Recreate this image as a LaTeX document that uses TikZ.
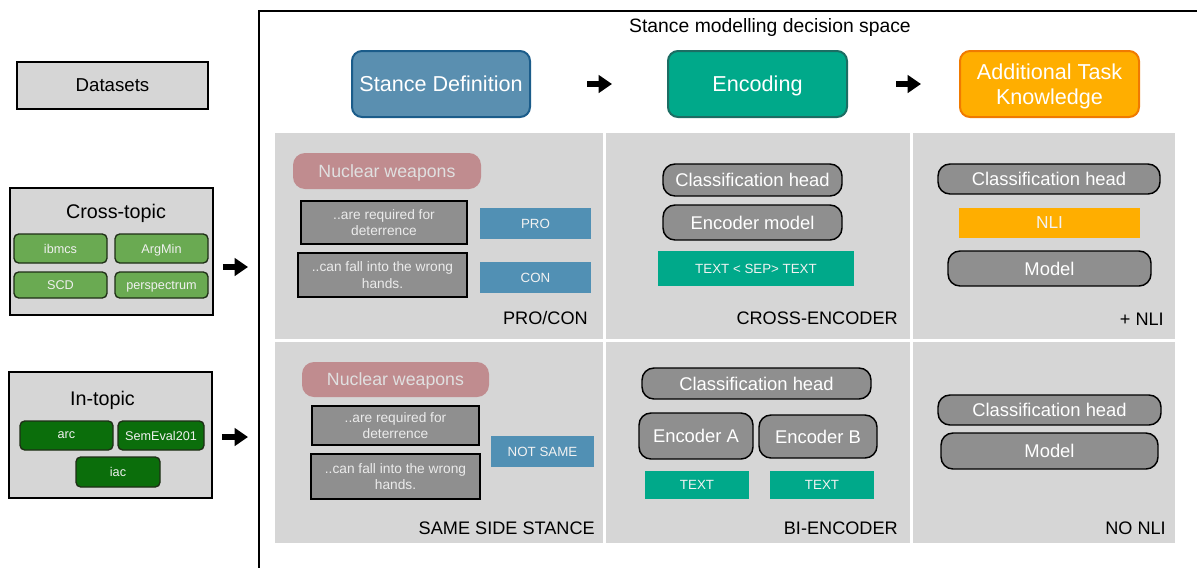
\documentclass[tikz,border=0pt]{standalone}
\usepackage{fontspec}
\setmainfont{Liberation Sans}
\usetikzlibrary{arrows.meta}

\definecolor{panelgray}{HTML}{D6D6D6}
\definecolor{boxgray}{HTML}{8F8F8F}
\definecolor{stanceblue}{HTML}{5A8FB0}
\definecolor{stanceedge}{HTML}{1B5C8A}
\definecolor{tagblue}{HTML}{5190B4}
\definecolor{encteal}{HTML}{00A98A}
\definecolor{encedge}{HTML}{1C6D63}
\definecolor{taskorange}{HTML}{FFAE00}
\definecolor{taskedge}{HTML}{F07A00}
\definecolor{topicpink}{HTML}{C08C8F}
\definecolor{lightchip}{HTML}{6AAA52}
\definecolor{darkchip}{HTML}{0B6E0B}
\definecolor{chipedge}{HTML}{1E2E16}

\begin{document}
\begin{tikzpicture}[x=0.75pt, y=-0.75pt,
    header/.style={rectangle, rounded corners=7.5pt, line width=1.5pt, text=white,
        align=center, minimum width=134.25pt, minimum height=49.5pt, inner sep=0pt,
        text depth=0pt, font=\fontsize{16.2}{18.6}\selectfont},
    bigarrow/.style={line width=4pt, -{Triangle[length=10pt,width=13pt]}},
    groupbox/.style={draw=black, line width=1.2pt, fill=panelgray, inner sep=0pt},
    grouptitle/.style={inner sep=0pt, font=\fontsize{14.8}{17}\selectfont},
    chip/.style={draw=chipedge, line width=1pt, rounded corners=3.5pt, inner sep=0pt,
        text depth=0pt, text=white!94!black, font=\fontsize{9.5}{11}\selectfont},
    topicbox/.style={fill=topicpink, rounded corners=9pt, inner sep=0pt, text depth=0pt,
        text=white!88!black, font=\fontsize{13.3}{15}\selectfont},
    argbox/.style={draw=black, line width=1.4pt, fill=boxgray, inner sep=0pt,
        align=center, text=white!92!black, font=\fontsize{10.3}{12.3}\selectfont},
    tag/.style={inner sep=0pt, text depth=0pt, text=white!95!black,
        font=\fontsize{10}{12}\selectfont},
    layer/.style={draw=black, line width=1.1pt, fill=boxgray, rounded corners=9pt,
        inner sep=0pt, text depth=0pt, text=white, font=\fontsize{13.8}{16}\selectfont},
    celltitle/.style={anchor=east, inner sep=0pt, font=\fontsize{13.6}{16}\selectfont}]

    \useasboundingbox (0,0) rectangle (1197,568);

    % decision space frame and panels
    \draw[line width=1.5pt] (259,568) |- (1197,11);
    \fill[panelgray] (275,133) rectangle (603,339);
    \fill[panelgray] (606,133) rectangle (910,339);
    \fill[panelgray] (913,133) rectangle (1175,339);
    \fill[panelgray] (275,342) rectangle (603,543);
    \fill[panelgray] (606,342) rectangle (910,543);
    \fill[panelgray] (913,342) rectangle (1175,543);

    \node[inner sep=0pt, font=\fontsize{14.5}{17}\selectfont] (space) at (770,27)
        {Stance modelling decision space};

    % headers
    \node[groupbox, minimum width=143.25pt, minimum height=35.25pt,
        font=\fontsize{14}{16}\selectfont] (datasets) at (112.5,85.5) {Datasets};
    \node[header, fill=stanceblue, draw=stanceedge, minimum width=133.5pt]
        (stancedef) at (441,84) {Stance Definition};
    \node[header, fill=encteal, draw=encedge] (encoding) at (757.5,84) {Encoding};
    \node[header, fill=taskorange, draw=taskedge] (task) at (1049.5,84)
        {Additional Task\\Knowledge};

    \draw[bigarrow, shorten <=42pt, shorten >=41.25pt] (stancedef) -- (encoding);
    \draw[bigarrow, shorten <=36pt, shorten >=28.5pt] (encoding) -- (task);

    % datasets
    \node[groupbox, minimum width=152.25pt, minimum height=95.25pt] (crosstopic)
        at (111.5,251.5) {};
    \node[grouptitle] (crosstitle) at (116,213) {Cross-topic};
    \node[chip, fill=lightchip, minimum width=69.75pt, minimum height=21.75pt]
        (ibmcs) at (60.5,248.5) {ibmcs};
    \node[chip, fill=lightchip, minimum width=69.75pt, minimum height=21.75pt]
        (argmin) at (161.5,248.5) {ArgMin};
    \node[chip, fill=lightchip, minimum width=69.75pt, minimum height=19.5pt]
        (scd) at (60.5,285) {SCD};
    \node[chip, fill=lightchip, minimum width=69.75pt, minimum height=19.5pt]
        (perspectrum) at (161.5,285) {perspectrum};

    \node[groupbox, minimum width=152.25pt, minimum height=94.5pt] (intopic)
        at (110.5,435) {};
    \node[grouptitle] (intitle) at (102.5,400) {In-topic};
    \node[chip, fill=darkchip, minimum width=69.75pt, minimum height=21.75pt]
        (arc) at (66.5,435.5) {arc};
    \node[chip, fill=darkchip, minimum width=64.5pt, minimum height=21.75pt]
        (semeval) at (161,435.5) {SemEval201};
    \node[chip, fill=darkchip, minimum width=63pt, minimum height=22.5pt]
        (iac) at (118,472) {iac};

    \coordinate (frame1) at (259,267);
    \coordinate (frame2) at (259,437);
    \draw[bigarrow, shorten <=6.75pt, shorten >=8.25pt] (crosstopic.east |- frame1) -- (frame1);
    \draw[bigarrow, shorten <=6.75pt, shorten >=8.25pt] (intopic.east |- frame2) -- (frame2);

    % PRO/CON
    \node[topicbox, minimum width=141pt, minimum height=27pt] (topic1) at (387,171)
        {Nuclear weapons};
    \node[argbox, minimum width=124.5pt, minimum height=32.25pt] (req1) at (384,222.5)
        {..are required for\\deterrence};
    \node[argbox, minimum width=126.75pt, minimum height=33pt] (fall1) at (382.5,275)
        {..can fall into the wrong\\hands.};
    \node[tag, fill=tagblue, minimum width=83.25pt, minimum height=23.25pt] (pro)
        at (535.5,223.5) {PRO};
    \node[tag, fill=tagblue, minimum width=83.25pt, minimum height=23.25pt] (con)
        at (535.5,277.5) {CON};
    \node[celltitle] (procon) at (588,318) {PRO/CON};

    % cross-encoder
    \node[layer, minimum width=134.25pt, minimum height=24pt] (head1) at (752.5,180)
        {Classification head};
    \node[layer, minimum width=134.25pt, minimum height=26.25pt] (encmodel)
        at (752.5,222.5) {Encoder model};
    \node[tag, fill=encteal, minimum width=147pt, minimum height=26.25pt] (septext)
        at (756,268.5) {TEXT < SEP> TEXT};
    \node[celltitle] (crossenc) at (898,318) {CROSS-ENCODER};

    % + NLI
    \node[layer, minimum width=166.5pt, minimum height=22.5pt] (head2) at (1049,179)
        {Classification head};
    \node[tag, fill=taskorange, minimum width=135.75pt, minimum height=22.5pt,
        font=\fontsize{13}{15}\selectfont] (nli) at (1049.5,223) {NLI};
    \node[layer, minimum width=152.25pt, minimum height=26.25pt] (model1)
        at (1049.5,268.5) {Model};
    \node[celltitle] (plusnli) at (1164,319) {+ NLI};

    % same side stance
    \node[topicbox, minimum width=140.25pt, minimum height=26.25pt] (topic2)
        at (395.5,379.5) {Nuclear weapons};
    \node[argbox, minimum width=125.25pt, minimum height=29.25pt] (req2) at (395.5,425.5)
        {..are required for\\deterrence};
    \node[argbox, minimum width=126.75pt, minimum height=33.75pt] (fall2) at (395.5,476.5)
        {..can fall into the wrong\\hands.};
    \node[tag, fill=tagblue, minimum width=77.25pt, minimum height=23.25pt] (notsame)
        at (542.5,451.5) {NOT SAME};
    \node[celltitle] (sameside) at (595,528) {SAME SIDE STANCE};

    % bi-encoder
    \node[layer, minimum width=171.75pt, minimum height=23.25pt] (head3) at (756.5,383.5)
        {Classification head};
    \node[layer, minimum width=85.5pt, minimum height=34.5pt] (enca) at (696,436)
        {Encoder A};
    \node[layer, minimum width=88.5pt, minimum height=32.25pt] (encb) at (818,436.5)
        {Encoder B};
    \node[tag, fill=encteal, minimum width=78pt, minimum height=21pt] (texta)
        at (697,485) {TEXT};
    \node[tag, fill=encteal, minimum width=78pt, minimum height=21pt] (textb)
        at (822,485) {TEXT};
    \node[celltitle] (bienc) at (898,528) {BI-ENCODER};

    % no NLI
    \node[layer, minimum width=167.25pt, minimum height=22.5pt] (head4) at (1049.5,410)
        {Classification head};
    \node[layer, minimum width=162.75pt, minimum height=27pt] (model2) at (1049.5,451)
        {Model};
    \node[celltitle] (nonli) at (1166,528) {NO NLI};

\end{tikzpicture}
\end{document}
